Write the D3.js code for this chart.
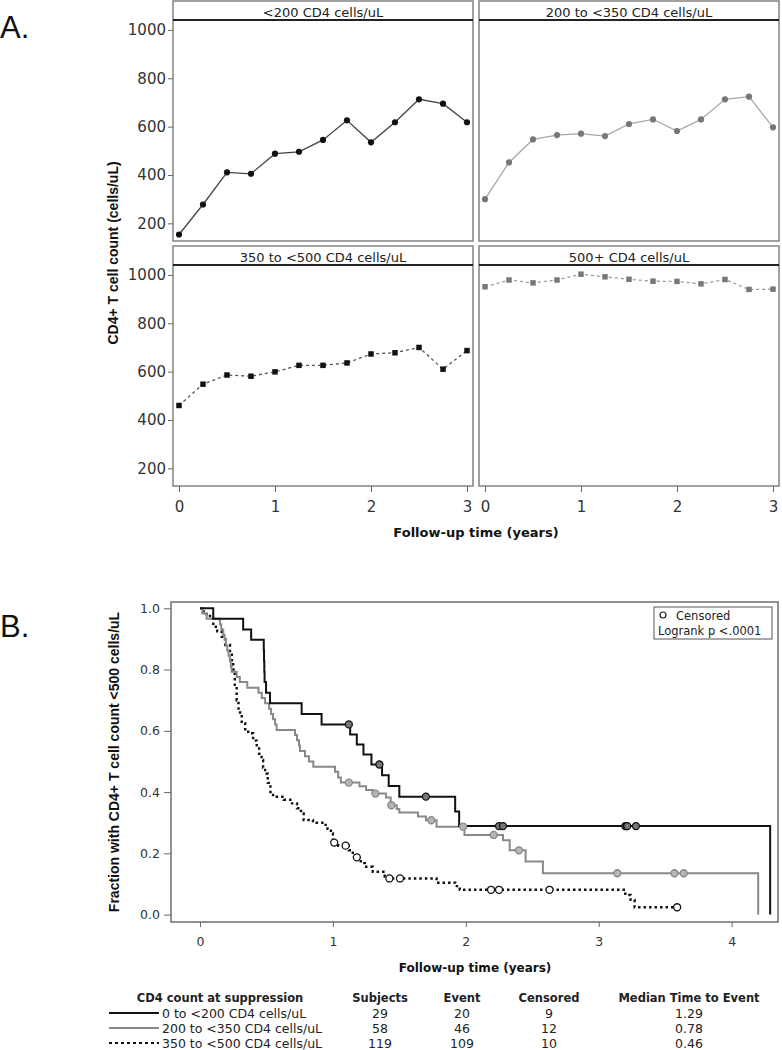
<!DOCTYPE html>
<html><head><meta charset="utf-8">
<script src="https://cdn.jsdelivr.net/npm/d3@7"></script>
<style>body{margin:0;background:#fff}</style>
</head><body><svg id="c" width="782" height="1050"></svg>
<script>
// ---------- Panel A data ----------
const followupYears = [0,0.25,0.5,0.75,1,1.25,1.5,1.75,2,2.25,2.5,2.75,3];
const panelTitles = ["<200 CD4 cells/uL","200 to <350 CD4 cells/uL","350 to <500 CD4 cells/uL","500+ CD4 cells/uL"];
const cd4Below200   = [154,278,411,405,488,496,545,626,535,618,713,695,618];
const cd4From200to350 = [300,452,547,565,571,561,611,630,582,630,713,724,597];
const cd4From350to500 = [460,548,586,581,599,626,626,636,673,678,700,610,687];
const cd4Above500   = [951,979,967,979,1003,992,982,974,973,963,981,940,941];
const yTicksA = [200,400,600,800,1000];
const xTicksA = [0,1,2,3];

// ---------- Panel B data (Kaplan-Meier step points) ----------
const km1Time = [0,0.10,0.325,0.385,0.48,0.482,0.484,0.486,0.497,0.527,0.765,0.915,1.13,1.18,1.23,1.29,1.37,1.42,1.50,1.92,1.95,4.29];
const km1Surv = [1.0,0.966,0.931,0.897,0.862,0.828,0.793,0.759,0.724,0.690,0.655,0.621,0.588,0.555,0.523,0.490,0.455,0.420,0.385,0.337,0.289,0];
const km1Censor = [1.12,1.35,1.70,2.25,2.28,3.20,3.21,3.215,3.28];
const km1End = 4.29;

const km2Time = [0,0.02,0.05,0.15,0.16,0.175,0.185,0.195,0.205,0.215,0.225,0.232,0.238,0.276,0.30,0.356,0.44,0.465,0.49,0.52,0.535,0.55,0.565,0.577,0.715,0.73,0.745,0.752,0.79,0.82,0.853,1.016,1.04,1.06,1.20,1.25,1.30,1.40,1.435,1.48,1.50,1.64,1.70,1.78,1.99,2.28,2.33,2.45,2.58,4.20];
const km2Surv = [1.0,0.983,0.966,0.948,0.931,0.914,0.897,0.879,0.862,0.845,0.828,0.810,0.793,0.776,0.759,0.741,0.724,0.707,0.690,0.672,0.655,0.638,0.621,0.603,0.586,0.569,0.552,0.534,0.517,0.500,0.483,0.466,0.448,0.431,0.419,0.407,0.395,0.382,0.357,0.345,0.333,0.320,0.308,0.287,0.260,0.243,0.210,0.173,0.135,0];
const km2Censor = [1.12,1.32,1.44,1.74,1.98,2.21,2.40,3.14,3.57,3.64];
const km2End = 4.20;

const km3Time = [0,0.02,0.05,0.075,0.10,0.13,0.163,0.19,0.226,0.24,0.25,0.262,0.276,0.29,0.314,0.34,0.363,0.40,0.427,0.445,0.464,0.475,0.49,0.51,0.53,0.55,0.63,0.68,0.73,0.76,0.78,0.85,0.93,0.96,0.985,1.00,1.04,1.12,1.15,1.17,1.21,1.24,1.30,1.39,1.41,1.78,1.92,1.955,3.20,3.24,3.27];
const km3Surv = [1.0,0.99,0.975,0.966,0.94,0.925,0.907,0.88,0.853,0.825,0.80,0.75,0.70,0.66,0.625,0.605,0.592,0.568,0.548,0.525,0.505,0.48,0.46,0.43,0.40,0.385,0.375,0.363,0.347,0.33,0.309,0.30,0.293,0.28,0.265,0.235,0.225,0.21,0.198,0.187,0.168,0.156,0.14,0.124,0.118,0.104,0.093,0.081,0.064,0.048,0.024];
const km3Censor = [1.01,1.096,1.18,1.425,1.505,2.19,2.25,2.63,3.59];
const km3End = 3.59;

const xTicksB = [0,1,2,3,4];
const yTicksB = [0,0.2,0.4,0.6,0.8,1.0];

// ---------- table ----------
const tableHeaders = ["CD4 count at suppression","Subjects","Event","Censored","Median Time to Event"];
const groupLabels = ["0 to <200 CD4 cells/uL","200 to <350 CD4 cells/uL","350 to <500 CD4 cells/uL"];
const subjects = [29,58,119];
const events = [20,46,109];
const censoredN = [9,12,10];
const medianTime = ["1.29","0.78","0.46"];

const svg = d3.select("#c");
svg.append("rect").attr("width",782).attr("height",1050).attr("fill","#fff");
const TICKFONT = "DejaVu Sans, sans-serif";
const BOLDFONT = "Liberation Sans, Arial, sans-serif";

// ================= PANEL A =================
svg.append("text").attr("x",0).attr("y",38).attr("font-family",BOLDFONT).attr("font-size",31).attr("fill","#111").text("A.");

const seriesA = [cd4Below200, cd4From200to350, cd4From350to500, cd4Above500];
const panelGeo = [
  {x0:173,x1:473,h0:1,p0:20,p1:241},
  {x0:479,x1:779,h0:1,p0:20,p1:241},
  {x0:173,x1:473,h0:246,p0:265,p1:486},
  {x0:479,x1:779,h0:246,p0:265,p1:486}
];
const styleA = [
  {line:"#444",dash:null,sym:d3.symbolCircle,size:30,fill:"#111"},
  {line:"#a8a8a8",dash:null,sym:d3.symbolCircle,size:30,fill:"#777"},
  {line:"#555",dash:"3,3",sym:d3.symbolSquare,size:30,fill:"#111"},
  {line:"#9a9a9a",dash:"3,3",sym:d3.symbolSquare,size:30,fill:"#777"}
];

panelGeo.forEach((g,i)=>{
  const x = d3.scaleLinear().domain([-0.0625,3.0625]).range([g.x0,g.x1]);
  const y = d3.scaleLinear().domain([127,1041]).range([g.p1,g.p0]);
  const gp = svg.append("g");
  gp.append("rect").attr("x",g.x0).attr("y",g.h0).attr("width",g.x1-g.x0).attr("height",g.p1-g.h0)
    .attr("fill","#fff").attr("stroke","#8a8a8a").attr("stroke-width",1.6);
  gp.append("line").attr("x1",g.x0).attr("x2",g.x1).attr("y1",g.p0).attr("y2",g.p0)
    .attr("stroke","#222").attr("stroke-width",2);
  gp.append("text").attr("x",(g.x0+g.x1)/2).attr("y",g.p0-3.5).attr("text-anchor","middle")
    .attr("font-family",TICKFONT).attr("font-size",13).attr("fill","#222").text(panelTitles[i]);
  if(i%2===0){
    const ay = gp.append("g").attr("transform",`translate(${g.x0},0)`)
      .call(d3.axisLeft(y).tickValues(yTicksA).tickFormat(d3.format("d")).tickSize(5).tickPadding(2));
    ay.select(".domain").remove();
    ay.selectAll("line").attr("stroke","#666");
    ay.selectAll("text").attr("font-family",TICKFONT).attr("font-size",15).attr("fill","#333");
  }
  if(i>=2){
    const ax = gp.append("g").attr("transform",`translate(0,${g.p1})`)
      .call(d3.axisBottom(x).tickValues(xTicksA).tickFormat(d3.format("d")).tickSize(6).tickPadding(9));
    ax.select(".domain").remove();
    ax.selectAll("line").attr("stroke","#666");
    ax.selectAll("text").attr("font-family",TICKFONT).attr("font-size",15).attr("fill","#333");
  }
  const pts = followupYears.map((t,k)=>[t,seriesA[i][k]]);
  const st = styleA[i];
  gp.append("path").datum(pts)
    .attr("d",d3.line().x(d=>x(d[0])).y(d=>y(d[1])))
    .attr("fill","none").attr("stroke",st.line).attr("stroke-width",1.3)
    .attr("stroke-dasharray",st.dash);
  gp.selectAll(".m").data(pts).enter().append("path")
    .attr("transform",d=>`translate(${x(d[0])},${y(d[1])})`)
    .attr("d",d3.symbol().type(st.sym).size(st.size)).attr("fill",st.fill);
});

svg.append("text").attr("x",476).attr("y",537).attr("text-anchor","middle")
  .attr("font-family",TICKFONT).attr("font-weight","bold").attr("font-size",13).attr("fill","#111")
  .text("Follow-up time (years)");
svg.append("text").attr("transform","translate(118,253) rotate(-90)").attr("text-anchor","middle")
  .attr("font-family",BOLDFONT).attr("font-weight","bold").attr("font-size",14).attr("fill","#111")
  .text("CD4+ T cell count (cells/uL)");

// ================= PANEL B =================
svg.append("text").attr("x",0).attr("y",637).attr("font-family",BOLDFONT).attr("font-size",31).attr("fill","#111").text("B.");

const xB = d3.scaleLinear().domain([-0.218,4.349]).range([171,778]);
const yB = d3.scaleLinear().domain([0,1]).range([914.6,608.3]);
const gb = svg.append("g");
gb.append("rect").attr("x",171).attr("y",602).attr("width",607).attr("height",320)
  .attr("fill","#fff").attr("stroke","#777").attr("stroke-width",1.6);

const axb = gb.append("g").attr("transform","translate(0,922)")
  .call(d3.axisBottom(xB).tickValues(xTicksB).tickFormat(d3.format("d")).tickSize(5).tickPadding(10));
axb.select(".domain").remove();
axb.selectAll("line").attr("stroke","#666");
axb.selectAll("text").attr("font-family",TICKFONT).attr("font-size",12.5).attr("fill","#333");
const ayb = gb.append("g").attr("transform","translate(171,0)")
  .call(d3.axisLeft(yB).tickValues(yTicksB).tickFormat(d3.format(".1f")).tickSize(7).tickPadding(4));
ayb.select(".domain").remove();
ayb.selectAll("line").attr("stroke","#666");
ayb.selectAll("text").attr("font-family",TICKFONT).attr("font-size",12.5).attr("fill","#333");

const groups = [
  {t:km3Time,s:km3Surv,c:km3Censor,end:km3End,stroke:"#111",dash:"2.5,3",w:2.4,cf:"#fff",cs:"#111"},
  {t:km2Time,s:km2Surv,c:km2Censor,end:km2End,stroke:"#888",dash:null,w:2,cf:"#b5b5b5",cs:"#888"},
  {t:km1Time,s:km1Surv,c:km1Censor,end:km1End,stroke:"#111",dash:null,w:2,cf:"#777",cs:"#111"}
];
const stepLine = d3.line().x(d=>xB(d[0])).y(d=>yB(d[1])).curve(d3.curveStepAfter);
groups.forEach(g=>{
  const pts = g.t.map((t,k)=>[t,g.s[k]]);
  if(g.end>g.t[g.t.length-1]) pts.push([g.end,g.s[g.s.length-1]]);
  gb.append("path").datum(pts).attr("d",stepLine).attr("fill","none")
    .attr("stroke",g.stroke).attr("stroke-width",g.w).attr("stroke-dasharray",g.dash);
});
groups.forEach(g=>{
  const cpts = g.c.map(t=>[t,g.s[d3.bisectRight(g.t,t)-1]]);
  gb.selectAll(null).data(cpts).enter().append("circle")
    .attr("cx",d=>xB(d[0])).attr("cy",d=>yB(d[1])).attr("r",3.5)
    .attr("fill",g.cf).attr("stroke",g.cs).attr("stroke-width",1.3);
});

gb.append("rect").attr("x",654).attr("y",607).attr("width",118).attr("height",32)
  .attr("fill","#fff").attr("stroke","#555").attr("stroke-width",1);
gb.append("circle").attr("cx",663).attr("cy",615).attr("r",3).attr("fill","none").attr("stroke","#222").attr("stroke-width",1.2);
gb.append("text").attr("x",676).attr("y",619.5).attr("font-family",TICKFONT).attr("font-size",11.5).attr("fill","#222").text("Censored");
gb.append("text").attr("x",658).attr("y",635).attr("font-family",TICKFONT).attr("font-size",11.5).attr("fill","#222").text("Logrank p <.0001");

svg.append("text").attr("x",475).attr("y",972).attr("text-anchor","middle")
  .attr("font-family",TICKFONT).attr("font-weight","bold").attr("font-size",12).attr("fill","#111")
  .text("Follow-up time (years)");
svg.append("text").attr("transform","translate(119,762) rotate(-90)").attr("text-anchor","middle")
  .attr("font-family",BOLDFONT).attr("font-weight","bold").attr("font-size",14).attr("fill","#111")
  .text("Fraction with CD4+ T cell count <500 cells/uL");

// ================= TABLE =================
const colX = [220,380,462,549,689];
const tb = svg.append("g").attr("font-family",TICKFONT).attr("fill","#222");
tableHeaders.forEach((h,i)=>{
  tb.append("text").attr("x",colX[i]).attr("y",1001.5).attr("text-anchor","middle")
    .attr("font-weight","bold").attr("font-size",11.5).text(h);
});
const rowY = [1013,1028,1043];
const rowStyle = [{s:"#111",d:null},{s:"#888",d:null},{s:"#111",d:"3,3"}];
groupLabels.forEach((lab,i)=>{
  const yy = rowY[i];
  tb.append("line").attr("x1",109).attr("x2",159).attr("y1",yy).attr("y2",yy)
    .attr("stroke",rowStyle[i].s).attr("stroke-width",2.2).attr("stroke-dasharray",rowStyle[i].d);
  tb.append("text").attr("x",162).attr("y",yy+4.5).attr("font-size",12.5).text(lab);
  [subjects[i],events[i],censoredN[i],medianTime[i]].forEach((v,j)=>{
    tb.append("text").attr("x",colX[j+1]).attr("y",yy+4.5).attr("text-anchor","middle").attr("font-size",12.5).text(v);
  });
});
</script></body></html>
